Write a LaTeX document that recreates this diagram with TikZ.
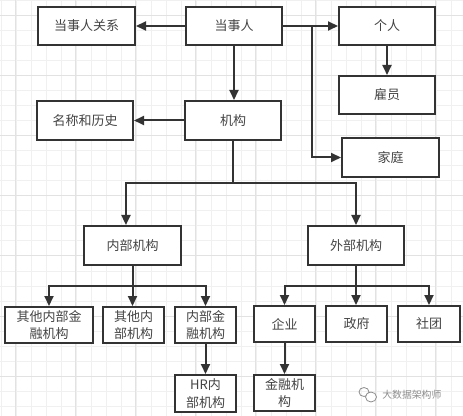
\documentclass[tikz,border=0pt]{standalone}
\usepackage{fontspec}
\newfontfamily\cjk{Noto Sans CJK SC}
\usetikzlibrary{arrows.meta}
\definecolor{ink}{HTML}{333333}
\definecolor{txt}{HTML}{444444}
\definecolor{gridminor}{HTML}{F0F0F0}
\definecolor{gridmajor}{HTML}{E2E2E2}
\definecolor{wmark}{HTML}{8C8C8C}
\newcommand\mybx[6]{%
  \pgfmathsetmacro\myBW{(#4-#2-2)*0.75}%
  \pgfmathsetmacro\myBH{(#5-#3-2)*0.75}%
  \node[boxst, minimum width=\myBW pt, minimum height=\myBH pt] (#1) at ({(#2+#4)/2},{(#3+#5)/2}) {#6};}
\tikzset{
  boxst/.style={draw=ink, line width=1.5pt, fill=white, inner sep=0pt,
    align=center, text=txt, font=\cjk\fontsize{9.75pt}{13.3pt}\selectfont},
  arr/.style={draw=ink, line width=1.5pt, -{Triangle[length=7.5pt, width=6.75pt]}},
  lin/.style={draw=ink, line width=1.5pt}
}
\begin{document}
\begin{tikzpicture}[x=0.75pt, y=-0.75pt]
\useasboundingbox (0,0) rectangle (463,416);
\fill[white] (0,0) rectangle (463,416);
% grid
\foreach \k in {0,...,30} {
  \draw[gridminor, line width=0.75pt] ({1+15*\k},0) -- ({1+15*\k},416);
}
\foreach \k in {0,...,27} {
  \draw[gridminor, line width=0.75pt] (0,{1+15*\k}) -- (463,{1+15*\k});
}
\foreach \k in {0,...,7} {
  \draw[gridmajor, line width=0.75pt] ({15.7+60*\k},0) -- ({15.7+60*\k},416);
  \draw[gridmajor, line width=0.75pt] (0,{16+60*\k}) -- (463,{16+60*\k});
}
% boxes
\mybx{rel}{37}{6}{136}{46}{当事人关系}
\mybx{party}{185}{6}{283}{46}{当事人}
\mybx{person}{338}{6}{436}{46}{个人}
\mybx{emp}{338}{75}{436}{115}{雇员}
\mybx{name}{36}{100}{134}{141}{名称和历史}
\mybx{org}{184}{100}{282}{141}{机构}
\mybx{family}{341}{137}{440}{178}{家庭}
\mybx{inner}{83}{225}{182}{266}{内部机构}
\mybx{outer}{307}{225}{405}{266}{外部机构}
\mybx{oifi}{4}{306}{94}{344}{其他内部金\\融机构}
\mybx{oi}{102}{306}{165}{344}{其他内\\部机构}
\mybx{ifi}{174}{306}{237}{344}{内部金\\融机构}
\mybx{ent}{253}{305}{316}{343}{企业}
\mybx{gov}{325}{305}{388}{343}{政府}
\mybx{soc}{397}{305}{461}{343}{社团}
\mybx{hr}{174}{374}{237}{413}{HR内\\部机构}
\mybx{fin}{253}{374}{316}{412}{金融机\\构}
% connectors
\draw[arr] (party.west) -- (rel.east);
\draw[arr] (party.east) -- (person.west);
\coordinate (j1) at (312,26);
\draw[arr] (j1) |- (family.west);
\draw[arr] (party.south) -- (party.south |- org.north);
\draw[arr] (person.south) -- (person.south |- emp.north);
\draw[arr] (org.west) -- (name.east);
\draw[arr] (org.south) -- ++(0,42) -| ([xshift=-4.9pt]inner.north);
\draw[arr] (org.south) -- ++(0,42) -| (outer.north);
\draw[arr] (inner.south) -- ++(0,20) -| (oifi.north);
\draw[arr] (inner.south) -- (inner.south |- oi.north);
\draw[arr] (inner.south) -- ++(0,20) -| (ifi.north);
\draw[arr] (outer.south) -- ++(0,20) -| (ent.north);
\draw[arr] (outer.south) -- (outer.south |- gov.north);
\draw[arr] (outer.south) -- ++(0,20) -| (soc.north);
\draw[arr] (ifi.south) -- (hr.north);
\draw[arr] (ent.south) -- (fin.north);
% watermark
\draw[wmark, line width=0.6pt] (364,392) ellipse [x radius=5, y radius=4.5];
\draw[wmark, line width=0.6pt, fill=white] (371,397) ellipse [x radius=5.5, y radius=5];
\node[text=wmark, font=\cjk\fontsize{7.4pt}{9pt}\selectfont, inner sep=0pt, anchor=west] (wm) at (382,395) {大数据架构师};
\end{tikzpicture}
\end{document}
